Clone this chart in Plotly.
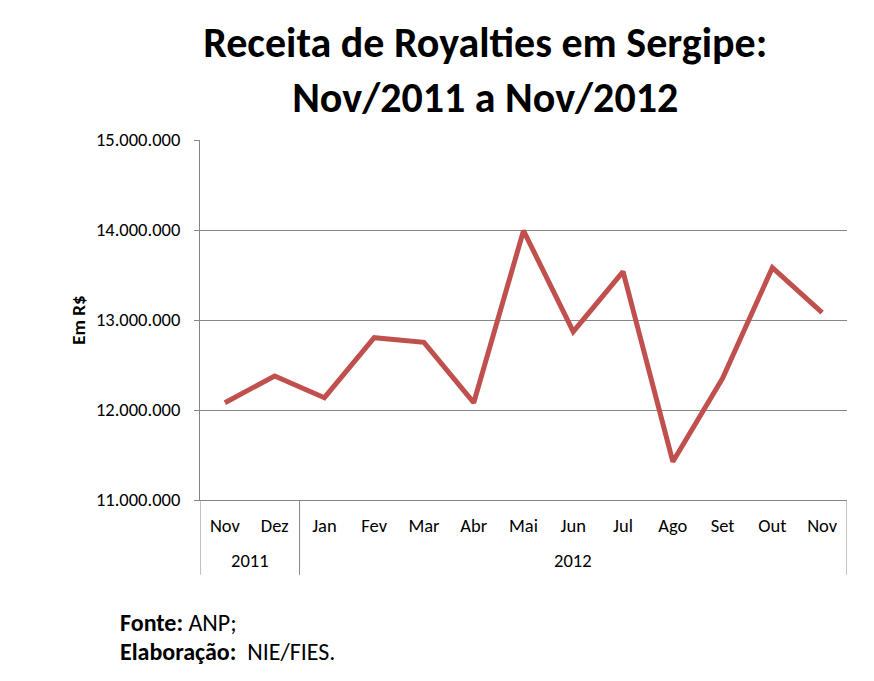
import plotly.graph_objects as go

years = ["2011", "2011", "2012", "2012", "2012", "2012", "2012", "2012", "2012", "2012", "2012", "2012", "2012"]
months = ["Nov", "Dez", "Jan", "Fev", "Mar", "Abr", "Mai", "Jun", "Jul", "Ago", "Set", "Out", "Nov"]
receita = [12081000, 12378000, 12137000, 12803000, 12752000, 12081000, 13993000,
           12870000, 13537000, 11426000, 12352000, 13581000, 13081000]
y_ticks = [11000000, 12000000, 13000000, 14000000, 15000000]
y_tick_labels = ["11.000.000", "12.000.000", "13.000.000", "14.000.000", "15.000.000"]

FONT = "Carlito, Calibri, Lato, sans-serif"
GRID = "#868686"

idx = list(range(len(months)))

fig = go.Figure()
fig.add_trace(go.Scatter(
    x=idx, y=receita, mode="lines",
    line=dict(color="#C0504D", width=5), showlegend=False, hoverinfo="skip",
))

fig.update_layout(
    width=874, height=681,
    paper_bgcolor="white", plot_bgcolor="white",
    margin=dict(l=192, r=35, t=132, b=189),
    font=dict(family=FONT, color="black", size=18.5),
    title=dict(
        text="<b>Receita de Royalties em Sergipe:<br>Nov/2011 a Nov/2012</b>",
        x=0.546, xanchor="center", y=0.928, yanchor="middle",
        font=dict(family=FONT, size=42, color="black"),
    ),
    xaxis=dict(
        range=[-0.5, len(months) - 0.5], tickvals=idx, ticktext=months,
        showgrid=False, showline=True, linecolor=GRID, linewidth=1,
        ticks="", ticklabelstandoff=9, zeroline=False, automargin=False,
        tickfont=dict(size=18.5),
    ),
    yaxis=dict(
        range=[11000000, 15000000], tickvals=y_ticks, ticktext=y_tick_labels,
        showgrid=True, gridcolor=GRID, gridwidth=1,
        showline=True, linecolor=GRID, linewidth=1,
        ticks="outside", ticklen=5, tickcolor=GRID, ticklabelstandoff=10,
        zeroline=False, automargin=False, tickfont=dict(size=18.5),
        title=dict(text="<b>Em R$</b>", font=dict(size=19), standoff=5),
    ),
)

# year group labels and dividers (computed from the years list)
groups = []
for i, yr in enumerate(years):
    if not groups or groups[-1][0] != yr:
        groups.append([yr, i, i])
    else:
        groups[-1][2] = i
for yr, a, b in groups:
    fig.add_annotation(
        xref="x", yref="paper", x=(a + b) / 2, y=-0.169, yanchor="middle",
        text=yr, showarrow=False, font=dict(size=18.5, family=FONT),
    )
bounds = [groups[0][1] - 0.5] + [g[2] + 0.5 for g in groups]
for bx in bounds:
    fig.add_shape(
        type="line", xref="x", yref="paper", x0=bx, x1=bx, y0=0, y1=-0.208,
        line=dict(color=GRID, width=1),
    )

fig.add_annotation(
    xref="paper", yref="paper", x=-0.127, y=-0.339, xanchor="left", yanchor="middle",
    text="<b>Fonte:</b> ANP;", showarrow=False, font=dict(size=24, family=FONT),
)
fig.add_annotation(
    xref="paper", yref="paper", x=-0.127, y=-0.422, xanchor="left", yanchor="middle",
    text="<b>Elaboração:</b>  NIE/FIES.", showarrow=False, font=dict(size=24, family=FONT),
)

fig.write_html("out.html")
